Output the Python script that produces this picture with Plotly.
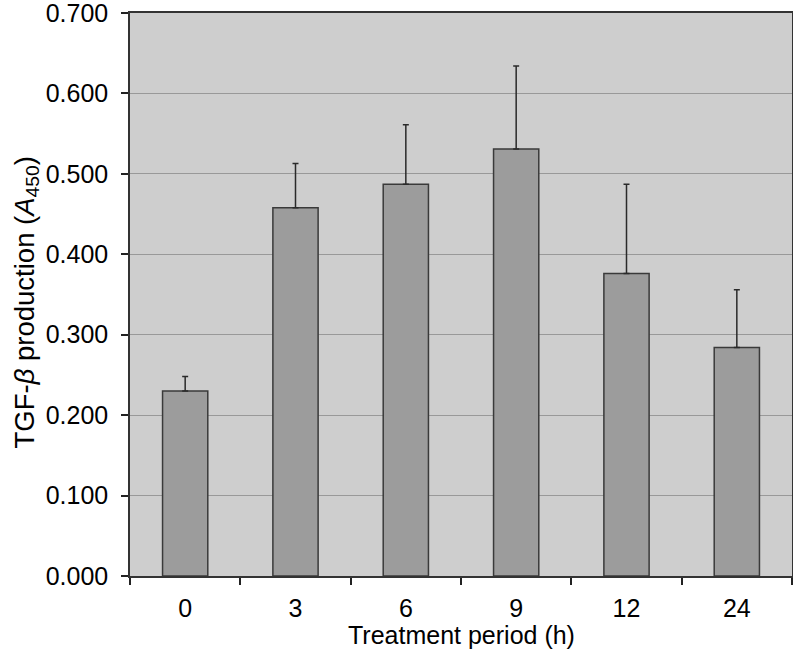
import plotly.graph_objects as go

categories = ["0", "3", "6", "9", "12", "24"]
values = [0.230, 0.458, 0.487, 0.531, 0.376, 0.284]
err_plus = [0.018, 0.055, 0.074, 0.103, 0.111, 0.072]

fig = go.Figure()
fig.add_trace(go.Bar(
    x=categories, y=values,
    marker=dict(color="#9c9c9c", line=dict(color="#3a3a3a", width=1.5)),
    error_y=dict(type="data", array=err_plus, symmetric=False,
                 arrayminus=[0]*len(values), color="#2a2a2a",
                 thickness=1.5, width=3),
    width=0.41,
))

font = "Liberation Sans, Arial, sans-serif"
fig.update_layout(
    width=793, height=663,
    margin=dict(l=130, r=1, t=13, b=87),
    paper_bgcolor="white",
    plot_bgcolor="#cecece",
    showlegend=False,
    font=dict(family=font, size=25, color="black"),
)
fig.update_xaxes(
    type="category", automargin=False,
    showline=True, linecolor="#333333", linewidth=1.5, mirror=True,
    ticks="outside", tickson="boundaries", ticklen=7, tickwidth=1.5, tickcolor="#222222",
    tickfont=dict(size=25), ticklabelstandoff=9, ticklabeloverflow="allow",
    showgrid=False,
)
fig.update_yaxes(
    range=[0, 0.70001], tickvals=[0, 0.1, 0.2, 0.3, 0.4, 0.5, 0.6, 0.7],
    tickformat=".3f", automargin=False,
    showline=True, linecolor="#333333", linewidth=1.5, mirror=True,
    ticks="outside", ticklen=7, tickwidth=1.5, tickcolor="#222222",
    tickfont=dict(size=25), ticklabelstandoff=8, ticklabeloverflow="allow",
    gridcolor="#999999", gridwidth=1,
    zeroline=False,
)
fig.add_annotation(
    text="Treatment period (h)", xref="paper", yref="paper",
    x=0.5, y=0, xanchor="center", yanchor="middle", yshift=-59,
    showarrow=False, font=dict(size=25),
)
fig.add_annotation(
    text="TGF-<i>β</i> production (<i>A</i><sub>450</sub>)", xref="paper", yref="paper",
    x=0, y=0.5, xanchor="center", yanchor="middle", xshift=-104, yshift=-8,
    textangle=-90, showarrow=False, font=dict(size=27.5),
)

fig.write_html("out.html", config={"displayModeBar": False},
               post_script="document.body.style.margin='0';")
